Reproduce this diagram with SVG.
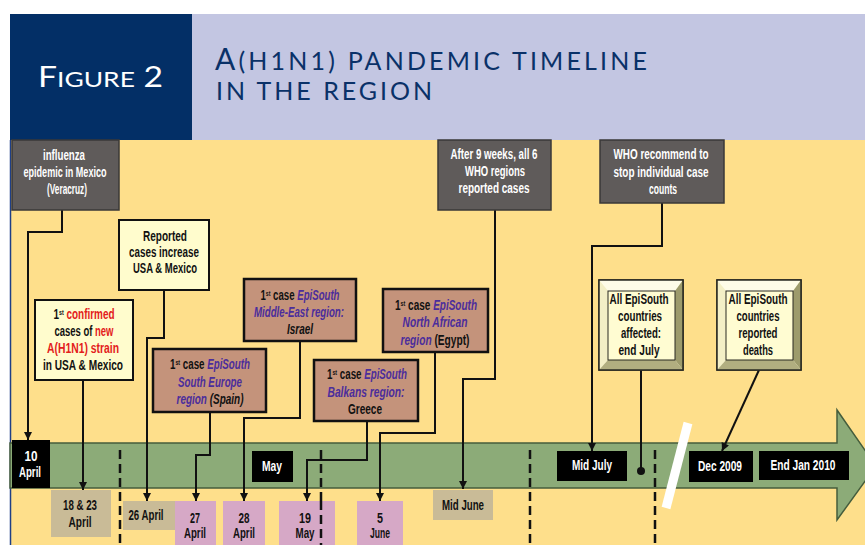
<svg xmlns="http://www.w3.org/2000/svg" width="865" height="545" viewBox="0 0 865 545">
<defs>
<style>
.t{font-family:"Liberation Sans Narrow","Liberation Sans",Arial,sans-serif;font-weight:bold;font-size:14px;text-anchor:middle;fill:#111}
.w{fill:#fff}
.p{fill:#4b2d9c;font-style:italic}
.i{font-style:italic}
.r{fill:#e3201b}
.sup{font-size:7.5px}
.grey{fill:#5f5b5a;stroke:#3a3838;stroke-width:1.5}
.pale{fill:#fffccd;stroke:#111;stroke-width:2}
.brown{fill:#c4937b;stroke:#111;stroke-width:2.5}
.blk{fill:#000}
.tan{fill:#c9bb97}
.pink{fill:#d6a8c6}
.dash{stroke:#111;stroke-width:2.5;stroke-dasharray:9 5;fill:none}
.conn path{fill:none;stroke:#111;stroke-width:2}
.hd{font-family:Lato,"Open Sans",sans-serif}
</style>
<marker id="ah" viewBox="0 0 10 10" refX="10" refY="5" markerUnits="userSpaceOnUse" markerWidth="10" markerHeight="8" orient="auto">
<path d="M0,0 L10,5 L0,10 z" fill="#111"/>
</marker>
</defs>

<!-- header -->
<rect x="0" y="0" width="865" height="545" fill="#fff"/>
<rect x="10" y="14" width="182" height="126" fill="#032f66"/>
<rect x="192" y="14" width="673" height="126" fill="#c3c6e2"/>
<text class="hd" x="38" y="87" font-size="28" fill="#fff" textLength="125" lengthAdjust="spacingAndGlyphs">F<tspan font-size="22">IGURE</tspan> 2</text>
<text class="hd" x="215" y="70" font-size="30" fill="#0a3168" textLength="432" lengthAdjust="spacing">A<tspan font-size="25">(H1N1) PANDEMIC TIMELINE</tspan></text>
<text class="hd" x="216" y="100" font-size="25" fill="#0a3168" textLength="216" lengthAdjust="spacing">IN THE REGION</text>

<!-- background -->
<rect x="11" y="140" width="854" height="405" fill="#fedf8b"/>
<line x1="10.5" y1="140" x2="10.5" y2="545" stroke="#1f3f86" stroke-width="1.5"/>

<!-- timeline band -->
<path d="M10,443 H837 V410 L876,466 L837,520 V488 H10 Z" fill="#8cab78" stroke="#455d3c" stroke-width="1.5"/>

<!-- dashed month separators -->
<line class="dash" x1="120" y1="450" x2="120" y2="545"/>
<line class="dash" x1="321" y1="450" x2="321" y2="545"/>
<line class="dash" x1="530" y1="450" x2="530" y2="545"/>
<line class="dash" x1="655" y1="450" x2="655" y2="545"/>
<line x1="688" y1="423" x2="666" y2="508" stroke="#fff" stroke-width="9"/>

<!-- timeline labels -->
<g id="t-10april"><rect class="blk" x="12" y="440" width="38" height="48"/>
<text class="t w" x="31" y="461" textLength="13" lengthAdjust="spacingAndGlyphs">10</text>
<text class="t w" x="30" y="477" textLength="22" lengthAdjust="spacingAndGlyphs">April</text></g>
<g id="t-may"><rect class="blk" x="252" y="451" width="41" height="31"/>
<text class="t w" x="272" y="471" textLength="20" lengthAdjust="spacingAndGlyphs">May</text></g>
<g id="t-midjuly"><rect class="blk" x="557" y="451" width="70" height="30"/>
<text class="t w" x="592" y="470" textLength="40" lengthAdjust="spacingAndGlyphs">Mid July</text></g>
<g id="t-dec2009"><rect class="blk" x="689" y="451" width="64" height="31"/>
<text class="t w" x="720" y="471" textLength="44" lengthAdjust="spacingAndGlyphs">Dec 2009</text></g>
<g id="t-endjan"><rect class="blk" x="759" y="451" width="90" height="29"/>
<text class="t w" x="803" y="470" textLength="65" lengthAdjust="spacingAndGlyphs">End Jan  2010</text></g>

<!-- date boxes -->
<g id="d-1823"><rect class="tan" x="51" y="490" width="60" height="47"/>
<text class="t" x="80" y="510" textLength="34" lengthAdjust="spacingAndGlyphs">18 &amp; 23</text>
<text class="t" x="80" y="527" textLength="23" lengthAdjust="spacingAndGlyphs">April</text></g>
<g id="d-26"><rect class="tan" x="123" y="501" width="54" height="29"/>
<text class="t" x="146" y="520" textLength="35" lengthAdjust="spacingAndGlyphs">26 April</text></g>
<g id="d-27"><rect class="pink" x="175" y="501" width="41" height="44"/>
<text class="t" x="195" y="523" textLength="10" lengthAdjust="spacingAndGlyphs">27</text>
<text class="t" x="195" y="538" textLength="22" lengthAdjust="spacingAndGlyphs">April</text></g>
<g id="d-28"><rect class="pink" x="223" y="501" width="42" height="44"/>
<text class="t" x="244" y="523" textLength="11" lengthAdjust="spacingAndGlyphs">28</text>
<text class="t" x="244" y="538" textLength="22" lengthAdjust="spacingAndGlyphs">April</text></g>
<g id="d-19"><rect class="pink" x="279" y="501" width="56" height="44"/>
<text class="t" x="305" y="523" textLength="12" lengthAdjust="spacingAndGlyphs">19</text>
<text class="t" x="305" y="538" textLength="19" lengthAdjust="spacingAndGlyphs">May</text></g>
<g id="d-5"><rect class="pink" x="357" y="501" width="46" height="44"/>
<text class="t" x="380" y="523" textLength="6" lengthAdjust="spacingAndGlyphs">5</text>
<text class="t" x="380" y="538" textLength="20" lengthAdjust="spacingAndGlyphs">June</text></g>
<g id="d-midjune"><rect class="tan" x="433" y="490" width="60" height="30"/>
<text class="t" x="463" y="510" textLength="42" lengthAdjust="spacingAndGlyphs">Mid June</text></g>
<line class="dash" x1="321" y1="501" x2="321" y2="545"/>

<!-- connectors -->
<g id="connectors" class="conn">
<path d="M62,210 V232 H28 V440" marker-end="url(#ah)"/>
<path d="M164,290 V338 H147 V501" marker-end="url(#ah)"/>
<path d="M83,380 V490" marker-end="url(#ah)"/>
<path d="M210,412 V455 H196 V501" marker-end="url(#ah)"/>
<path d="M300,341 V418 H244 V501" marker-end="url(#ah)"/>
<path d="M367,421 V460 H307 V501" marker-end="url(#ah)"/>
<path d="M435,352 V433 H380 V501" marker-end="url(#ah)"/>
<path d="M495,210 V379 H463 V489" marker-end="url(#ah)"/>
<path d="M662,203 V246 H592 V451" marker-end="url(#ah)"/>
<path d="M641,370 V469"/>
<path d="M759,370 L722,451" marker-end="url(#ah)"/>
<circle cx="641" cy="471" r="4" fill="#111"/>
</g>

<!-- event boxes -->
<g id="n-influenza"><rect class="grey" x="12" y="140" width="107" height="70"/>
<text class="t w" x="64" y="160" textLength="42" lengthAdjust="spacingAndGlyphs">influenza</text>
<text class="t w" x="65" y="177" textLength="83" lengthAdjust="spacingAndGlyphs">epidemic in Mexico</text>
<text class="t w" x="67" y="194" textLength="40" lengthAdjust="spacingAndGlyphs">(Veracruz)</text></g>

<g id="n-reported"><rect class="pale" x="119" y="220" width="90" height="70"/>
<text class="t" x="165" y="241" textLength="44" lengthAdjust="spacingAndGlyphs">Reported</text>
<text class="t" x="164" y="257" textLength="70" lengthAdjust="spacingAndGlyphs">cases increase</text>
<text class="t" x="165" y="273" textLength="64" lengthAdjust="spacingAndGlyphs">USA &amp; Mexico</text></g>

<g id="n-confirmed"><rect class="pale" x="35" y="300" width="98" height="80"/>
<text class="t" x="84" y="319" textLength="61" lengthAdjust="spacingAndGlyphs">1<tspan class="sup" dy="-4">st</tspan><tspan class="r" dy="4"> confirmed</tspan></text>
<text class="t" x="84" y="336" textLength="59" lengthAdjust="spacingAndGlyphs">cases of <tspan class="r">new</tspan></text>
<text class="t r" x="83" y="353" textLength="72" lengthAdjust="spacingAndGlyphs">A(H1N1) strain</text>
<text class="t" x="83" y="370" textLength="80" lengthAdjust="spacingAndGlyphs">in USA &amp; Mexico</text></g>

<g id="n-southeurope"><rect class="brown" x="153" y="349" width="113" height="63"/>
<text class="t" x="210" y="369" textLength="80" lengthAdjust="spacingAndGlyphs">1<tspan class="sup" dy="-4">st</tspan><tspan dy="4"> case </tspan><tspan class="p">EpiSouth</tspan></text>
<text class="t p" x="210" y="387" textLength="64" lengthAdjust="spacingAndGlyphs">South Europe</text>
<text class="t" x="210" y="404" textLength="67" lengthAdjust="spacingAndGlyphs"><tspan class="p">region</tspan><tspan class="i"> (Spain)</tspan></text></g>

<g id="n-middleeast"><rect class="brown" x="244" y="279" width="112" height="62"/>
<text class="t" x="300" y="300" textLength="79" lengthAdjust="spacingAndGlyphs">1<tspan class="sup" dy="-4">st</tspan><tspan dy="4"> case </tspan><tspan class="p">EpiSouth</tspan></text>
<text class="t p" x="299" y="317" textLength="90" lengthAdjust="spacingAndGlyphs">Middle-East region:</text>
<text class="t i" x="300" y="334" textLength="26" lengthAdjust="spacingAndGlyphs">Israel</text></g>

<g id="n-balkans"><rect class="brown" x="314" y="360" width="104" height="61"/>
<text class="t" x="367" y="379" textLength="80" lengthAdjust="spacingAndGlyphs">1<tspan class="sup" dy="-4">st</tspan><tspan dy="4"> case </tspan><tspan class="p">EpiSouth</tspan></text>
<text class="t p" x="366" y="397" textLength="77" lengthAdjust="spacingAndGlyphs">Balkans region:</text>
<text class="t" x="365" y="414" textLength="34" lengthAdjust="spacingAndGlyphs">Greece</text></g>

<g id="n-northafrica"><rect class="brown" x="383" y="289" width="105" height="63"/>
<text class="t" x="436" y="310" textLength="82" lengthAdjust="spacingAndGlyphs">1<tspan class="sup" dy="-4">st</tspan><tspan dy="4"> case </tspan><tspan class="p">EpiSouth</tspan></text>
<text class="t p" x="435" y="327" textLength="65" lengthAdjust="spacingAndGlyphs">North African</text>
<text class="t" x="435" y="345" textLength="69" lengthAdjust="spacingAndGlyphs"><tspan class="p">region</tspan> (Egypt)</text></g>

<g id="n-9weeks"><rect class="grey" x="438" y="140" width="113" height="70"/>
<text class="t w" x="494" y="159" textLength="87" lengthAdjust="spacingAndGlyphs">After 9 weeks, all 6</text>
<text class="t w" x="495" y="176" textLength="60" lengthAdjust="spacingAndGlyphs">WHO regions</text>
<text class="t w" x="494" y="193" textLength="71" lengthAdjust="spacingAndGlyphs">reported cases</text></g>

<g id="n-whorecommend"><rect class="grey" x="600" y="140" width="124" height="63"/>
<text class="t w" x="661" y="159" textLength="95" lengthAdjust="spacingAndGlyphs">WHO recommend to</text>
<text class="t w" x="661" y="177" textLength="95" lengthAdjust="spacingAndGlyphs">stop individual case</text>
<text class="t w" x="663" y="194" textLength="28" lengthAdjust="spacingAndGlyphs">counts</text></g>

<g id="n-affected">
<rect x="599" y="280" width="84" height="90" fill="#fffcd2" stroke="#2a2a22" stroke-width="1.5"/>
<polygon points="599,280 683,280 675,291 608,291" fill="#fefce8"/>
<polygon points="599,280 608,291 608,360 599,370" fill="#f3efc6"/>
<polygon points="683,280 683,370 675,360 675,291" fill="#9d9b6c"/>
<polygon points="599,370 683,370 675,360 608,360" fill="#b1ae80"/>
<rect x="608" y="291" width="67" height="69" fill="#fffcd2" stroke="#2a2a22" stroke-width="1"/>
<rect x="599" y="280" width="84" height="90" fill="none" stroke="#2a2a22" stroke-width="1.5"/>
<text class="t" x="639" y="304" textLength="59" lengthAdjust="spacingAndGlyphs">All EpiSouth</text>
<text class="t" x="640" y="321" textLength="44" lengthAdjust="spacingAndGlyphs">countries</text>
<text class="t" x="641" y="338" textLength="40" lengthAdjust="spacingAndGlyphs">affected:</text>
<text class="t" x="639" y="355" textLength="41" lengthAdjust="spacingAndGlyphs">end July</text></g>

<g id="n-deaths">
<rect x="717" y="280" width="84" height="90" fill="#fffcd2" stroke="#2a2a22" stroke-width="1.5"/>
<polygon points="717,280 801,280 793,291 726,291" fill="#fefce8"/>
<polygon points="717,280 726,291 726,360 717,370" fill="#f3efc6"/>
<polygon points="801,280 801,370 793,360 793,291" fill="#9d9b6c"/>
<polygon points="717,370 801,370 793,360 726,360" fill="#b1ae80"/>
<rect x="726" y="291" width="67" height="69" fill="#fffcd2" stroke="#2a2a22" stroke-width="1"/>
<rect x="717" y="280" width="84" height="90" fill="none" stroke="#2a2a22" stroke-width="1.5"/>
<text class="t" x="758" y="304" textLength="59" lengthAdjust="spacingAndGlyphs">All EpiSouth</text>
<text class="t" x="758" y="321" textLength="43" lengthAdjust="spacingAndGlyphs">countries</text>
<text class="t" x="758" y="338" textLength="39" lengthAdjust="spacingAndGlyphs">reported</text>
<text class="t" x="758" y="355" textLength="30" lengthAdjust="spacingAndGlyphs">deaths</text></g>
</svg>
